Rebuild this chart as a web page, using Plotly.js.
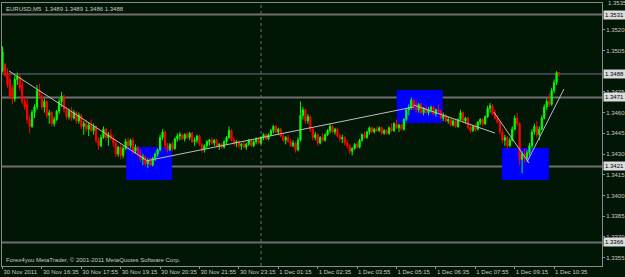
<!DOCTYPE html>
<html><head><meta charset="utf-8">
<script src="https://cdn.plot.ly/plotly-3.0.1.min.js"></script>
<style>html,body{margin:0;padding:0;background:#021606;}#chart{width:625px;height:277px;}</style>
</head><body><div id="chart"></div>
<script>
// EURUSD M5 candles, 30 Nov 2011 15:15 .. 1 Dec 2011 ~10:45 (bar index order)
const openP = [1.3490,1.3495,1.3488,1.3484,1.3478,1.3470,1.3484,1.3486,1.3480,1.3468,
1.3466,1.3455,1.3450,1.3460,1.3464,1.3476,1.3472,1.3464,1.3468,1.3458,
1.3460,1.3452,1.3455,1.3461,1.3468,1.3472,1.3462,1.3457,1.3461,1.3456,
1.3460,1.3454,1.3458,1.3450,1.3452,1.3448,1.3451,1.3447,1.3450,1.3440,
1.3436,1.3442,1.3448,1.3442,1.3444,1.3441,1.3438,1.3430,1.3435,1.3429,
1.3434,1.3439,1.3436,1.3440,1.3432,1.3435,1.3430,1.3426,1.3428,1.3423,
1.3425,1.3422,1.3427,1.3430,1.3433,1.3442,1.3446,1.3436,1.3433,1.3437,
1.3434,1.3441,1.3443,1.3444,1.3441,1.3444,1.3442,1.3445,1.3439,1.3440,
1.3443,1.3437,1.3433,1.3436,1.3439,1.3440,1.3438,1.3440,1.3436,1.3437,
1.3435,1.3439,1.3442,1.3447,1.3440,1.3438,1.3439,1.3436,1.3437,1.3435,
1.3437,1.3440,1.3436,1.3439,1.3441,1.3438,1.3442,1.3444,1.3441,1.3444,
1.3447,1.3450,1.3446,1.3448,1.3443,1.3440,1.3442,1.3439,1.3436,1.3438,
1.3433,1.3440,1.3458,1.3462,1.3454,1.3457,1.3448,1.3442,1.3444,1.3438,
1.3442,1.3440,1.3444,1.3447,1.3450,1.3446,1.3448,1.3443,1.3441,1.3442,
1.3438,1.3436,1.3432,1.3434,1.3437,1.3435,1.3440,1.3444,1.3442,1.3446,
1.3449,1.3446,1.3448,1.3447,1.3449,1.3445,1.3447,1.3445,1.3449,1.3447,
1.3452,1.3449,1.3451,1.3448,1.3455,1.3462,1.3464,1.3469,1.3464,1.3462,
1.3466,1.3460,1.3463,1.3460,1.3462,1.3464,1.3459,1.3462,1.3461,1.3456,
1.3458,1.3454,1.3455,1.3451,1.3454,1.3450,1.3455,1.3460,1.3454,1.3456,
1.3449,1.3447,1.3450,1.3448,1.3453,1.3455,1.3452,1.3457,1.3463,1.3465,
1.3459,1.3456,1.3453,1.3446,1.3440,1.3442,1.3436,1.3440,1.3448,1.3456,
1.3452,1.3426,1.3430,1.3427,1.3431,1.3436,1.3446,1.3450,1.3444,1.3448,
1.3456,1.3464,1.3468,1.3466,1.3476,1.3482,1.3489];
const highP = [1.3508,1.3496,1.3492,1.3490,1.3480,1.3487,1.3489,1.3488,1.3484,1.3472,
1.3470,1.3458,1.3462,1.3466,1.3480,1.3481,1.3474,1.3470,1.3469,1.3462,
1.3461,1.3457,1.3462,1.3470,1.3475,1.3473,1.3464,1.3463,1.3464,1.3462,
1.3461,1.3460,1.3459,1.3454,1.3455,1.3453,1.3455,1.3452,1.3451,1.3442,
1.3444,1.3450,1.3449,1.3446,1.3448,1.3444,1.3440,1.3436,1.3437,1.3436,
1.3441,1.3442,1.3441,1.3442,1.3437,1.3436,1.3433,1.3430,1.3429,1.3427,
1.3428,1.3428,1.3431,1.3434,1.3444,1.3448,1.3447,1.3438,1.3438,1.3439,
1.3442,1.3445,1.3446,1.3445,1.3445,1.3446,1.3446,1.3446,1.3442,1.3444,
1.3444,1.3438,1.3437,1.3440,1.3441,1.3442,1.3441,1.3441,1.3438,1.3438,
1.3440,1.3443,1.3450,1.3448,1.3442,1.3440,1.3440,1.3438,1.3439,1.3438,
1.3441,1.3441,1.3440,1.3442,1.3442,1.3443,1.3445,1.3445,1.3445,1.3448,
1.3451,1.3451,1.3449,1.3449,1.3445,1.3443,1.3444,1.3441,1.3440,1.3439,
1.3442,1.3468,1.3464,1.3463,1.3459,1.3458,1.3449,1.3446,1.3445,1.3443,
1.3445,1.3445,1.3448,1.3452,1.3451,1.3449,1.3449,1.3445,1.3444,1.3443,
1.3440,1.3437,1.3435,1.3438,1.3439,1.3441,1.3445,1.3446,1.3447,1.3450,
1.3450,1.3449,1.3450,1.3450,1.3450,1.3448,1.3448,1.3450,1.3452,1.3453,
1.3455,1.3452,1.3452,1.3456,1.3463,1.3466,1.3471,1.3470,1.3468,1.3467,
1.3467,1.3464,1.3465,1.3464,1.3465,1.3465,1.3463,1.3466,1.3462,1.3460,
1.3459,1.3457,1.3456,1.3455,1.3455,1.3456,1.3462,1.3461,1.3457,1.3457,
1.3452,1.3451,1.3452,1.3454,1.3456,1.3456,1.3458,1.3465,1.3467,1.3466,
1.3462,1.3458,1.3454,1.3448,1.3444,1.3443,1.3442,1.3450,1.3458,1.3460,
1.3453,1.3432,1.3434,1.3433,1.3438,1.3448,1.3452,1.3454,1.3450,1.3458,
1.3466,1.3470,1.3474,1.3478,1.3484,1.3490,1.3489];
const lowP = [1.3489,1.3486,1.3478,1.3470,1.3466,1.3468,1.3480,1.3476,1.3466,1.3462,
1.3452,1.3445,1.3449,1.3456,1.3462,1.3470,1.3462,1.3460,1.3456,1.3452,
1.3450,1.3450,1.3454,1.3459,1.3464,1.3460,1.3455,1.3455,1.3454,1.3455,
1.3452,1.3452,1.3448,1.3444,1.3446,1.3443,1.3446,1.3444,1.3438,1.3433,
1.3435,1.3441,1.3440,1.3436,1.3440,1.3435,1.3428,1.3428,1.3426,1.3427,
1.3433,1.3433,1.3434,1.3430,1.3430,1.3428,1.3424,1.3422,1.3421,1.3420,
1.3421,1.3421,1.3425,1.3428,1.3432,1.3440,1.3434,1.3431,1.3432,1.3432,
1.3433,1.3439,1.3440,1.3440,1.3439,1.3441,1.3440,1.3438,1.3436,1.3438,
1.3436,1.3431,1.3431,1.3434,1.3436,1.3437,1.3436,1.3435,1.3433,1.3434,
1.3434,1.3437,1.3441,1.3439,1.3436,1.3435,1.3434,1.3433,1.3434,1.3433,
1.3436,1.3435,1.3435,1.3437,1.3437,1.3437,1.3440,1.3440,1.3440,1.3443,
1.3445,1.3445,1.3444,1.3442,1.3439,1.3437,1.3438,1.3435,1.3435,1.3431,
1.3432,1.3439,1.3455,1.3452,1.3452,1.3446,1.3440,1.3440,1.3436,1.3437,
1.3439,1.3439,1.3443,1.3445,1.3445,1.3444,1.3442,1.3439,1.3438,1.3436,
1.3434,1.3430,1.3429,1.3433,1.3434,1.3434,1.3439,1.3441,1.3441,1.3444,
1.3445,1.3445,1.3446,1.3446,1.3444,1.3444,1.3444,1.3444,1.3446,1.3446,
1.3448,1.3446,1.3447,1.3447,1.3454,1.3458,1.3462,1.3462,1.3460,1.3460,
1.3459,1.3458,1.3459,1.3458,1.3460,1.3458,1.3457,1.3460,1.3455,1.3454,
1.3453,1.3452,1.3450,1.3450,1.3449,1.3449,1.3454,1.3453,1.3452,1.3448,
1.3445,1.3446,1.3446,1.3447,1.3451,1.3450,1.3451,1.3456,1.3460,1.3458,
1.3455,1.3452,1.3444,1.3438,1.3436,1.3434,1.3435,1.3439,1.3447,1.3450,
1.3422,1.3416,1.3424,1.3425,1.3429,1.3434,1.3444,1.3442,1.3440,1.3447,
1.3455,1.3462,1.3464,1.3465,1.3474,1.3480,1.3486];
const closeP = [1.3504,1.3487,1.3480,1.3472,1.3470,1.3484,1.3486,1.3478,1.3468,1.3464,
1.3455,1.3450,1.3460,1.3464,1.3476,1.3472,1.3464,1.3468,1.3458,1.3460,
1.3452,1.3455,1.3461,1.3468,1.3472,1.3462,1.3457,1.3461,1.3456,1.3460,
1.3454,1.3458,1.3450,1.3452,1.3448,1.3451,1.3447,1.3450,1.3440,1.3436,
1.3442,1.3448,1.3442,1.3444,1.3441,1.3438,1.3430,1.3435,1.3429,1.3434,
1.3439,1.3436,1.3440,1.3432,1.3435,1.3430,1.3426,1.3428,1.3423,1.3425,
1.3422,1.3427,1.3430,1.3433,1.3442,1.3446,1.3436,1.3433,1.3437,1.3434,
1.3441,1.3443,1.3444,1.3441,1.3444,1.3442,1.3445,1.3439,1.3440,1.3443,
1.3437,1.3433,1.3436,1.3439,1.3440,1.3438,1.3440,1.3436,1.3437,1.3435,
1.3439,1.3442,1.3447,1.3440,1.3438,1.3439,1.3436,1.3437,1.3435,1.3437,
1.3440,1.3436,1.3439,1.3441,1.3438,1.3442,1.3444,1.3441,1.3444,1.3447,
1.3450,1.3446,1.3448,1.3443,1.3440,1.3442,1.3439,1.3436,1.3438,1.3433,
1.3440,1.3458,1.3462,1.3454,1.3457,1.3448,1.3442,1.3444,1.3438,1.3442,
1.3440,1.3444,1.3447,1.3450,1.3446,1.3448,1.3443,1.3441,1.3442,1.3438,
1.3436,1.3432,1.3434,1.3437,1.3435,1.3440,1.3444,1.3442,1.3446,1.3449,
1.3446,1.3448,1.3447,1.3449,1.3445,1.3447,1.3445,1.3449,1.3447,1.3452,
1.3449,1.3451,1.3448,1.3455,1.3462,1.3464,1.3469,1.3464,1.3462,1.3466,
1.3460,1.3463,1.3460,1.3462,1.3464,1.3459,1.3462,1.3461,1.3456,1.3458,
1.3454,1.3455,1.3451,1.3454,1.3450,1.3455,1.3460,1.3454,1.3456,1.3449,
1.3447,1.3450,1.3448,1.3453,1.3455,1.3452,1.3457,1.3463,1.3465,1.3459,
1.3456,1.3453,1.3446,1.3440,1.3442,1.3436,1.3440,1.3448,1.3456,1.3452,
1.3426,1.3430,1.3427,1.3431,1.3436,1.3446,1.3450,1.3444,1.3448,1.3456,
1.3464,1.3468,1.3466,1.3476,1.3482,1.3489,1.3488];

// time-axis labels (every 16 bars)
const tickBars = [0,16,32,48,64,80,96,112,128,144,160,176,192,208,224];
const tickLabels = ["30 Nov 2011","30 Nov 16:35","30 Nov 17:55","30 Nov 19:15","30 Nov 20:35","30 Nov 21:55","30 Nov 23:15","1 Dec 01:15","1 Dec 02:35","1 Dec 03:55","1 Dec 05:15","1 Dec 06:35","1 Dec 07:55","1 Dec 09:15","1 Dec 10:35"];
// price scale labels (1.3490 is hidden under the bid label)
const priceTicks = [1.3520,1.3505,1.3475,1.3460,1.3445,1.3430,1.3415,1.3400,1.3385,1.3370,1.3355];
const topPriceLabel = '1.3535';
// horizontal levels drawn on chart
const levels = [1.3531,1.3471,1.3421,1.3366];
const bidLevel = 1.3488;
// rectangles [bar0, bar1, price0, price1]
const boxes = [[50.2,68.9,1.34351,1.34112],[160.1,178.8,1.34764,1.34525],[202.8,221.9,1.34344,1.34112]];
// trend lines [bar0, price0, bar1, price1]
const trends = [[2.6,1.34902,58.3,1.34257],[58.3,1.34250,167,1.34641],[167,1.34655,200,1.34452],[199.5,1.34605,213.8,1.34235],[213,1.34242,228,1.34771]];
const daySeparator = 105;

const idx = openP.map((_, i) => i);
const FONT = 'Liberation Sans, Arial, sans-serif';
const TXT = '#c8c8c8';

const shapes = [];
boxes.forEach(b => shapes.push({type:'rect', xref:'x', yref:'y', x0:b[0], x1:b[1], y0:b[2], y1:b[3], fillcolor:'#0000ff', line:{width:0}, layer:'below'}));
levels.forEach(v => shapes.push({type:'line', xref:'paper', yref:'y', x0:0, x1:1, y0:v, y1:v, line:{color:'#6e6e6e', width:2}, layer:'below'}));
shapes.push({type:'line', xref:'paper', yref:'y', x0:0, x1:1, y0:bidLevel, y1:bidLevel, line:{color:'#707092', width:1}, layer:'below'});
shapes.push({type:'line', xref:'x', yref:'paper', x0:daySeparator, x1:daySeparator, y0:0, y1:1, line:{color:'#6e6e6e', width:1, dash:'dot'}, layer:'below'});
trends.forEach(t => shapes.push({type:'line', xref:'x', yref:'y', x0:t[0], y0:t[1], x1:t[2], y1:t[3], line:{color:'#bdbdbd', width:1}, layer:'above'}));

const annotations = [];
levels.concat([bidLevel]).forEach(v => annotations.push({xref:'paper', yref:'y', x:1, y:v, xanchor:'left', yanchor:'middle', xshift:1, text:v.toFixed(4), showarrow:false, font:{family:FONT, size:6, color:'#000'}, bgcolor:'#dcdcdc', borderpad:1}));
annotations.push({xref:'paper', yref:'paper', x:1, y:1, xanchor:'left', yanchor:'middle', xshift:4, text:topPriceLabel, showarrow:false, font:{family:FONT, size:6, color:TXT}});
annotations.push({xref:'paper', yref:'paper', x:0, y:1, xanchor:'left', yanchor:'top', xshift:2, yshift:-1, text:'EURUSD,M5  1.3489 1.3489 1.3486 1.3488', showarrow:false, font:{family:FONT, size:6, color:TXT}});
annotations.push({xref:'paper', yref:'paper', x:0, y:0, xanchor:'left', yanchor:'bottom', xshift:2, yshift:1, text:'Forex4you MetaTrader, © 2001-2011 MetaQuotes Software Corp.', showarrow:false, font:{family:FONT, size:6, color:TXT}});

const trace = {type:'candlestick', x:idx, open:openP, high:highP, low:lowP, close:closeP,
  increasing:{line:{color:'#00ff00', width:1}, fillcolor:'#00ff00'},
  decreasing:{line:{color:'#ff0000', width:1}, fillcolor:'#ff0000'},
  whiskerwidth:0, hoverinfo:'skip', showlegend:false};

const layout = {
  width:625, height:277,
  margin:{l:2, r:23, t:3, b:11, pad:0},
  paper_bgcolor:'#021606', plot_bgcolor:'#021606',
  showlegend:false,
  xaxis:{range:[-0.2,243.45], rangeslider:{visible:false}, showgrid:false, zeroline:false,
    tickmode:'array', tickvals:tickBars, ticktext:tickLabels, tickangle:0, ticks:'outside', ticklen:2, tickcolor:'#909090',
    ticklabelposition:'outside right', ticklabelstandoff:0, tickfont:{family:FONT, size:6, color:TXT},
    showline:true, linecolor:'#8a8a8a', linewidth:1, mirror:true, fixedrange:true, automargin:false},
  yaxis:{range:[1.33489,1.35394], side:'right', showgrid:false, zeroline:false,
    tickmode:'array', tickvals:priceTicks, ticktext:priceTicks.map(v=>v.toFixed(4)), ticks:'outside', ticklen:2, tickcolor:'#909090',
    tickfont:{family:FONT, size:6, color:TXT},
    showline:true, linecolor:'#8a8a8a', linewidth:1, mirror:true, fixedrange:true, automargin:false},
  shapes:shapes, annotations:annotations
};
Plotly.newPlot('chart', [trace], layout, {staticPlot:true, displayModeBar:false});
</script></body></html>
